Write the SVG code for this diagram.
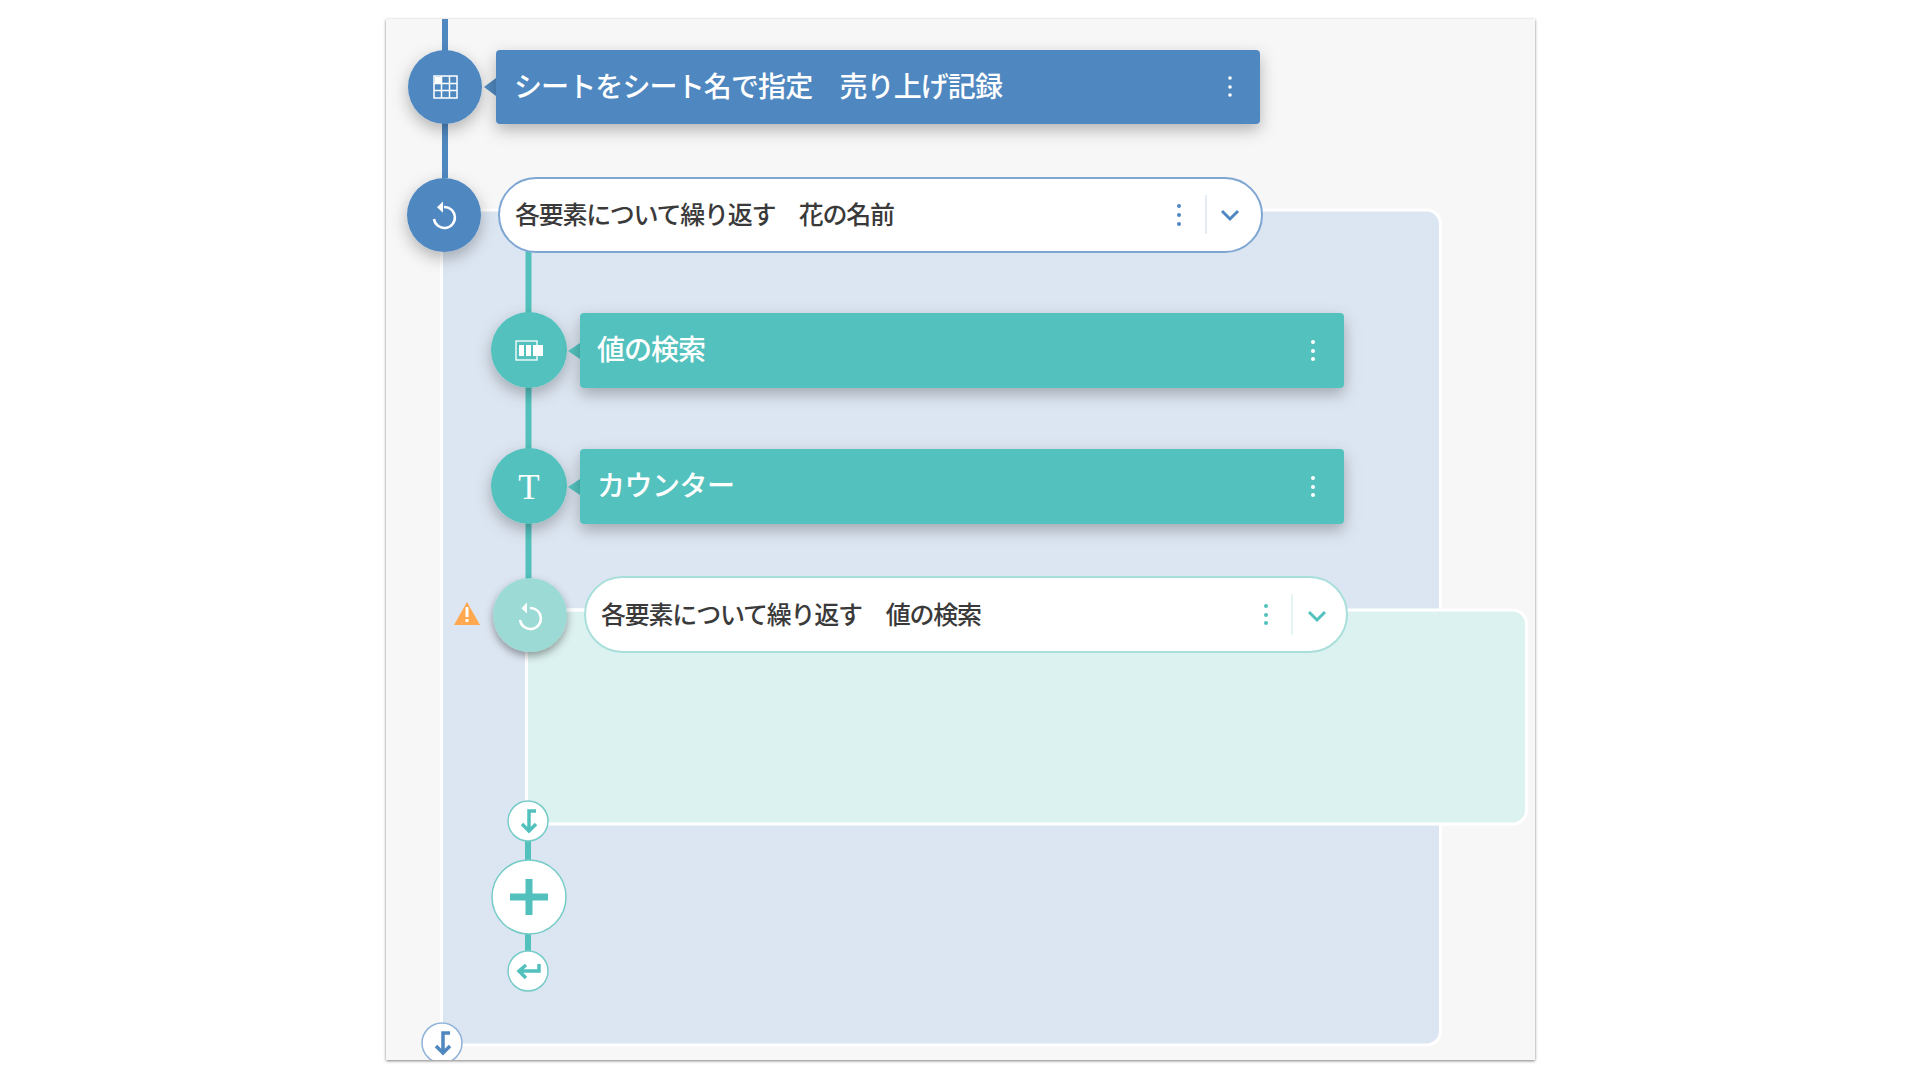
<svg xmlns="http://www.w3.org/2000/svg" width="1920" height="1080" viewBox="0 0 1920 1080">
<style>
text{font-family:"Noto Sans CJK JP","Noto Sans",sans-serif;dominant-baseline:auto}
.hd{font-size:28px;font-weight:500;fill:#fff}
.tl{font-size:25px;font-weight:500;fill:#3a3a3a}
.wi{fill:none;stroke:#fff;stroke-width:2.5}
.bl{fill:#4f88c0}.te{fill:#52c1bd}
.ct{fill:none;stroke:#52c1bd;stroke-width:3.5}
</style>
<defs>
<filter id="sh" x="-30%" y="-40%" width="160%" height="200%"><feDropShadow dx="0" dy="6" stdDeviation="8" flood-color="#000" flood-opacity=".28"/></filter>
<filter id="sh2" x="-30%" y="-30%" width="160%" height="170%"><feDropShadow dx="0" dy="4" stdDeviation="4" flood-color="#000" flood-opacity=".38"/></filter>
<filter id="ps" x="-2%" y="-2%" width="104%" height="104%"><feDropShadow dx="0" dy="1" stdDeviation="1.500" flood-color="#000" flood-opacity=".5"/></filter>
<clipPath id="pc"><rect x="386" y="19" width="1149" height="1041"/></clipPath>
</defs>
<rect x="386" y="19" width="1149" height="1041" fill="#f7f7f7" filter="url(#ps)"/>
<g id="areas">
<rect id="area-outer" x="441.500" y="210" width="999" height="835" rx="14" fill="#dce6f2" stroke="#fff" stroke-width="3"/>
<rect id="area-inner" x="526.500" y="610" width="1000" height="214" rx="14" fill="#dcf2f0" stroke="#fff" stroke-width="3"/>
</g>
<g id="connectors" clip-path="url(#pc)">
<path d="M445 19V178" stroke="#4f88c0" stroke-width="6" fill="none"/>
<path d="M528.500 250V580" stroke="#52c1bd" stroke-width="6" fill="none"/>
<path d="M528 840V960" stroke="#52c1bd" stroke-width="6" fill="none"/>
</g>
<g id="node-sheet">
<circle cx="445" cy="87" r="37" class="bl" filter="url(#sh)"/>
<path d="M484 87L496 78V96Z" class="bl"/>
<rect x="496" y="50" width="764" height="74" rx="4" class="bl" filter="url(#sh)"/>
<g fill="none" stroke="#fff" stroke-width="1.5"><rect x="434" y="76" width="23" height="22"/><path d="M434 83.5H457M434 90.5H457M441.500 76V98M449.500 76V98"/></g>
<rect x="435" y="77" width="6" height="6" fill="#fff"/>
<text x="514" y="97" class="hd" textLength="489">シートをシート名で指定　売り上げ記録</text>
<g fill="#fff"><circle cx="1230" cy="78" r="1.800"/><circle cx="1230" cy="87" r="1.800"/><circle cx="1230" cy="95" r="1.800"/></g>
</g>
<g id="node-loop1">
<circle cx="444" cy="215" r="37" class="bl" filter="url(#sh)"/>
<path class="wi" d="M444 207A10.500 10.500 0 1 1 434 219"/>
<path d="M443 201.500V212.700L437 207.300Z" fill="#fff"/>
<rect x="499" y="178" width="763" height="74" rx="37" fill="#fff" stroke="#7ea6d3" stroke-width="2"/>
<text x="515" y="224" class="tl" textLength="380">各要素について繰り返す　花の名前</text>
<g class="bl"><circle cx="1179" cy="206" r="2"/><circle cx="1179" cy="215" r="2"/><circle cx="1179" cy="224" r="2"/></g>
<path d="M1206 195V234" stroke="#dce6f2" stroke-width="1.500"/>
<path d="M1222 211L1230 219L1238 211" fill="none" stroke="#4f88c0" stroke-width="3"/>
</g>
<g id="node-search">
<circle cx="529" cy="350" r="38" class="te" filter="url(#sh)"/>
<path d="M568 351L580 343V359Z" class="te"/>
<rect x="580" y="313" width="764" height="75" rx="4" class="te" filter="url(#sh)"/>
<rect x="516" y="341" width="21" height="19" fill="none" stroke="#fff" stroke-width="1.300"/>
<path d="M519 345h5v11h-5zM526 345h5v11h-5zM533 345h5v11h-5zM538 345h5v11h-5z" fill="#fff"/>
<text x="597" y="360" class="hd" textLength="109">値の検索</text>
<g fill="#fff"><circle cx="1313" cy="342" r="2"/><circle cx="1313" cy="351" r="2"/><circle cx="1313" cy="359" r="2"/></g>
</g>
<g id="node-counter">
<circle cx="529" cy="486" r="38" class="te" filter="url(#sh)"/>
<path d="M568 487L580 479V495Z" class="te"/>
<rect x="580" y="449" width="764" height="75" rx="4" class="te" filter="url(#sh)"/>
<text x="529" y="499" font-size="35" fill="#fff" text-anchor="middle" style="font-family:'Liberation Serif',serif">T</text>
<text x="597" y="496" class="hd" textLength="138">カウンター</text>
<g fill="#fff"><circle cx="1313" cy="478" r="2"/><circle cx="1313" cy="487" r="2"/><circle cx="1313" cy="495" r="2"/></g>
</g>
<g id="node-loop2">
<path d="M567 610H586" stroke="#fff" stroke-width="3"/>
<path d="M467 602L480 625H454Z" fill="#ffa84f"/>
<path d="M467 607V617M467 619V622" stroke="#fff" stroke-width="3" fill="none"/>
<circle cx="530" cy="615" r="37" fill="#9cdad5" filter="url(#sh2)"/>
<path class="wi" d="M530 608A10.500 10.500 0 1 1 520 620"/>
<path d="M527 602.500V613.500L521.500 608.300Z" fill="#fff"/>
<rect x="585" y="577" width="762" height="75" rx="37.500" fill="#fff" stroke="#a8dfdb" stroke-width="2"/>
<text x="601" y="624" class="tl" textLength="381">各要素について繰り返す　値の検索</text>
<g class="te"><circle cx="1266" cy="606" r="2"/><circle cx="1266" cy="615" r="2"/><circle cx="1266" cy="623" r="2"/></g>
<path d="M1292 594V635" stroke="#dcf2f0" stroke-width="1.500"/>
<path d="M1309 612L1317 620L1325 612" fill="none" stroke="#52c1bd" stroke-width="3"/>
</g>
<g id="node-merge-inner">
<circle cx="528" cy="821" r="20" fill="#fff" stroke="#75cbc7" stroke-width="1.500"/>
<path d="M536 811H529V830M522 824L529 831L536 824" class="ct"/>
</g>
<g id="node-add">
<circle cx="529" cy="897" r="37" fill="#fff" stroke="#75cbc7" stroke-width="1.500"/>
<path d="M529 879V915M510 897H548" stroke="#52c1bd" stroke-width="7" fill="none"/>
</g>
<g id="node-return">
<circle cx="528" cy="971" r="20" fill="#fff" stroke="#75cbc7" stroke-width="1.500"/>
<path d="M539 964V971H519M526 965L519 971L526 978" class="ct"/>
</g>
<g id="node-merge-outer" clip-path="url(#pc)">
<circle cx="442" cy="1043" r="20" fill="#fff" stroke="#8fb2d9" stroke-width="1.500"/>
<path d="M450 1033H443V1053M436 1046L443 1053L450 1046" fill="none" stroke="#4f88c0" stroke-width="3.500"/>
</g>
</svg>
